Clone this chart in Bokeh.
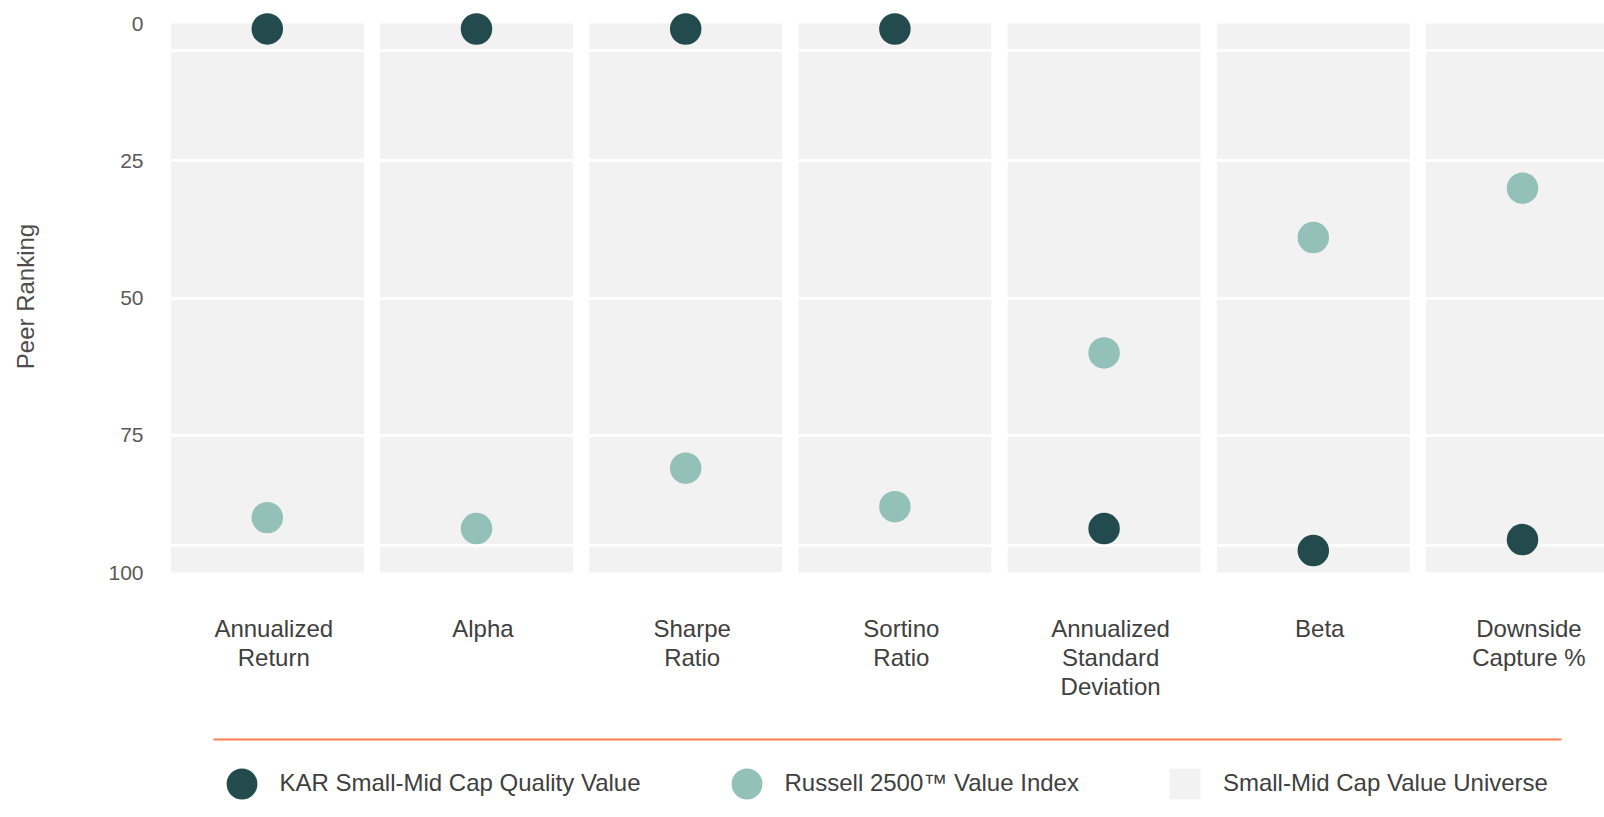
from bokeh.plotting import figure
from bokeh.layouts import column
from bokeh.models import Range1d, FixedTicker, LinearAxis, Legend, LegendItem
from bokeh.embed import file_html
from bokeh.resources import INLINE

# ---------------- data ----------------
categories = ["Annualized\nReturn", "Alpha", "Sharpe\nRatio", "Sortino\nRatio",
              "Annualized\nStandard\nDeviation", "Beta", "Downside\nCapture %"]
kar_rank = [1, 1, 1, 1, 92, 96, 94]
russell_rank = [90, 92, 81, 88, 60, 39, 30]
universe_low = [0, 0, 0, 0, 0, 0, 0]
universe_high = [100, 100, 100, 100, 100, 100, 100]
universe_breaks = [5, 25, 50, 75, 95]
y_ticks = [0, 25, 50, 75, 100]
series_names = ["KAR Small-Mid Cap Quality Value", "Russell 2500\u2122 Value Index",
                "Small-Mid Cap Value Universe"]

# ---------------- style ----------------
DARK = "#234a4d"
LIGHT = "#94c0ba"
GREY = "#f2f2f2"
ORANGE = "#ff7f50"
FONT = "Liberation Sans"
TXT = "#404040"

idx = list(range(len(categories)))

W = 1604
HA = 722
HB = 93
FRAME_LEFT = 150

p = figure(width=W, height=HA, output_backend="svg", toolbar_location=None,
           x_range=Range1d(-0.5583, 6.392), y_range=Range1d(103.64, -4.19),
           x_axis_type=None, min_border_left=FRAME_LEFT, min_border_right=0,
           min_border_top=0, min_border_bottom=130)
p.outline_line_color = None
p.xgrid.visible = False
p.ygrid.visible = False

# universe panels
p.vbar(x=idx, bottom=universe_low, top=universe_high, width=0.922,
       fill_color=GREY, line_color=None)
# universe percentile breaks
p.hspan(y=universe_breaks, line_color="white", line_width=3)
# points
p.scatter(x=idx, y=russell_rank, size=31.5, fill_color=LIGHT, line_color=None)
p.scatter(x=idx, y=kar_rank, size=31.5, fill_color=DARK, line_color=None)

# y axis
ya = p.yaxis[0]
ya.ticker = FixedTicker(ticks=y_ticks)
ya.axis_line_color = None
ya.major_tick_line_color = None
ya.minor_tick_line_color = None
ya.major_tick_out = 0
ya.major_tick_in = 0
ya.major_label_standoff = 7
ya.major_label_text_font = FONT
ya.major_label_text_font_size = "21px"
ya.major_label_text_color = "#595959"
ya.axis_label = "Peer Ranking"
ya.axis_label_text_font = FONT
ya.axis_label_text_font_size = "24px"
ya.axis_label_text_font_style = "normal"
ya.axis_label_text_color = "#4d4d4d"
ya.axis_label_standoff = 66

# category axis (labels slightly right of the panel centres)
p.extra_x_ranges = {"labels": Range1d(-0.5583 - 0.031, 6.392 - 0.031)}
xa = LinearAxis(x_range_name="labels", ticker=FixedTicker(ticks=idx),
                major_label_overrides={i: c for i, c in zip(idx, categories)})
xa.axis_line_color = None
xa.major_tick_line_color = None
xa.minor_tick_line_color = None
xa.major_tick_out = 0
xa.major_tick_in = 0
xa.major_label_standoff = 22
xa.major_label_text_font = FONT
xa.major_label_text_font_size = "24px"
xa.major_label_text_line_height = 1.08
xa.major_label_text_color = TXT
p.add_layout(xa, "below")

# ---------------- legend strip (frame aligned with the chart frame) ----------------
q = figure(width=W, height=HB, output_backend="svg", toolbar_location=None,
           x_range=Range1d(FRAME_LEFT, W), y_range=Range1d(0, HB),
           x_axis_type=None, y_axis_type=None,
           min_border_left=FRAME_LEFT, min_border_right=0, min_border_top=0, min_border_bottom=0)
q.outline_line_color = None
q.grid.visible = False
q.segment(x0=[213], y0=[76], x1=[1561], y1=[76], line_color=ORANGE, line_width=2)

r1 = q.scatter(x=idx, y=kar_rank, marker="circle", fill_color=DARK, line_color=None, visible=False)
r2 = q.scatter(x=idx, y=russell_rank, marker="circle", fill_color=LIGHT, line_color=None, visible=False)
r3 = q.scatter(x=idx, y=universe_high, marker="square", fill_color=GREY, line_color=None, visible=False)
legend = Legend(items=[LegendItem(label=series_names[0], renderers=[r1]),
                       LegendItem(label=series_names[1], renderers=[r2]),
                       LegendItem(label=series_names[2], renderers=[r3])],
                location=(202.5 - FRAME_LEFT, -6.5), orientation="horizontal",
                glyph_width=77, glyph_height=77, label_standoff=0, spacing=67,
                padding=0, margin=0, border_line_color=None, background_fill_alpha=0,
                label_text_font=FONT, label_text_font_size="24px", label_text_color=TXT)
q.add_layout(legend, "center")

layout = column(p, q, spacing=0)
open("out.html", "w").write(file_html(layout, INLINE))
